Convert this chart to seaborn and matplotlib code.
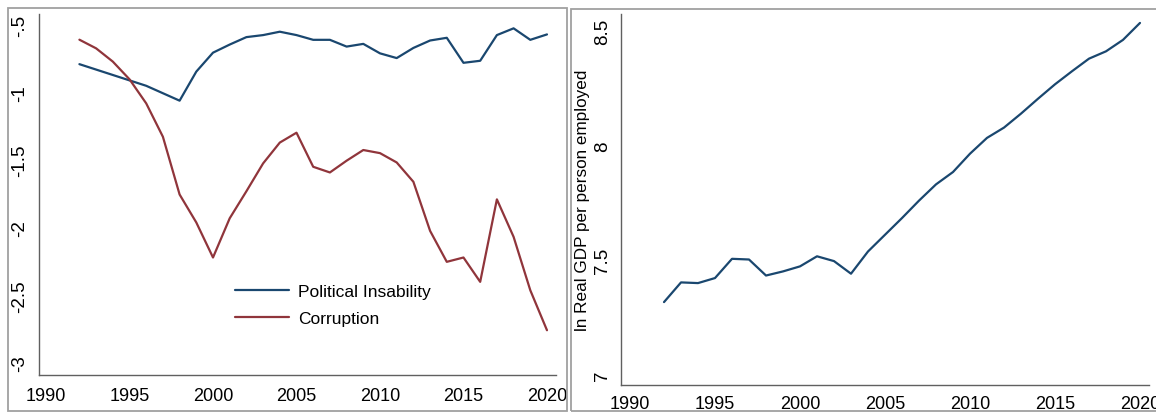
import pandas as pd
import matplotlib.pyplot as plt
import matplotlib.patches as patches
import seaborn as sns

years_pol = [1992, 1996, 1998] + list(range(1999, 2021))
pol_instab = [-0.79, -0.95, -1.06, -0.845, -0.705, -0.645, -0.59, -0.575, -0.55,
              -0.575, -0.61, -0.61, -0.66, -0.64, -0.71, -0.745, -0.67, -0.615,
              -0.595, -0.78, -0.765, -0.575, -0.525, -0.61, -0.57]

years = list(range(1992, 2021))
corruption = [-0.609, -0.673, -0.771, -0.902, -1.08, -1.327, -1.754, -1.961, -2.22,
              -1.93, -1.73, -1.524, -1.37, -1.297, -1.549, -1.591, -1.504, -1.425,
              -1.448, -1.517, -1.66, -2.023, -2.252, -2.22, -2.40, -1.79, -2.067,
              -2.462, -2.758]

ln_gdp = [7.316, 7.402, 7.399, 7.421, 7.505, 7.502, 7.432, 7.45, 7.472, 7.516,
          7.495, 7.44, 7.537, 7.61, 7.683, 7.759, 7.83, 7.884, 7.964, 8.033,
          8.078, 8.139, 8.204, 8.267, 8.324, 8.379, 8.411, 8.461, 8.535]

xticks = [1990, 1995, 2000, 2005, 2010, 2015, 2020]
left_yticks = [-0.5, -1, -1.5, -2, -2.5, -3]
left_ylabels = ['-.5', '-1', '-1.5', '-2', '-2.5', '-3']
right_yticks = [7, 7.5, 8, 8.5]
right_ylabels = ['7', '7.5', '8', '8.5']

navy = '#1a476f'
maroon = '#90353b'

df_pol = pd.DataFrame({'year': years_pol, 'value': pol_instab, 'series': 'Political Insability'})
df_cor = pd.DataFrame({'year': years, 'value': corruption, 'series': 'Corruption'})
df_left = pd.concat([df_pol, df_cor], ignore_index=True)
df_gdp = pd.DataFrame({'year': years, 'gdp': ln_gdp})

sns.set_theme(style='white')
plt.rcParams['font.family'] = ['Liberation Sans', 'DejaVu Sans']
plt.rcParams['text.color'] = 'black'

fig = plt.figure(figsize=(11.56, 4.14), dpi=100, facecolor='w')

# panel frames
fig.patches.append(patches.Rectangle((8 / 1156, 1 - 412 / 414), 559 / 1156, 403 / 414,
                                     transform=fig.transFigure, fill=False,
                                     edgecolor='#a0a0a0', linewidth=1.3))
fig.patches.append(patches.Rectangle((571 / 1156, 1 - 412 / 414), 600 / 1156, 402 / 414,
                                     transform=fig.transFigure, fill=False,
                                     edgecolor='#a0a0a0', linewidth=1.3))

ax1 = fig.add_axes([39 / 1156, 1 - 376 / 414, 517 / 1156, 361 / 414])
ax2 = fig.add_axes([621 / 1156, 1 - 386 / 414, 528 / 1156, 371 / 414])

sns.lineplot(data=df_left, x='year', y='value', hue='series',
             palette=[navy, maroon], linewidth=1.6, ax=ax1)
sns.lineplot(data=df_gdp, x='year', y='gdp', color=navy, linewidth=1.6, ax=ax2)

ax1.set_xlim(1989.58, 2020.54)
ax1.set_ylim(-3.089, -0.419)
ax2.set_xlim(1989.47, 2020.53)
ax2.set_ylim(6.954, 8.574)

for ax, yt, yl, xpad, ypad in [(ax1, left_yticks, left_ylabels, 4, 3),
                               (ax2, right_yticks, right_ylabels, 2, 2)]:
    ax.set_facecolor('white')
    for s in ['top', 'right']:
        ax.spines[s].set_visible(False)
    for s in ['left', 'bottom']:
        ax.spines[s].set_color('#606060')
        ax.spines[s].set_linewidth(1.0)
    ax.set_xticks(xticks)
    ax.set_xticklabels([str(x) for x in xticks])
    ax.set_yticks(yt)
    ax.set_yticklabels(yl, rotation=90, va='center')
    ax.tick_params(axis='both', direction='out', length=5, width=1.0,
                   color='#606060', labelcolor='black')
    ax.tick_params(axis='x', labelsize=13, pad=xpad)
    ax.tick_params(axis='y', labelsize=13.5, pad=ypad)
    ax.set_xlabel('')
    ax.set_ylabel('')

ax2.set_ylabel('ln Real GDP per person employed', fontsize=12.3, color='black')
ax2.yaxis.set_label_coords(-0.058, 0.5)

leg = ax1.legend(loc='upper left', bbox_to_anchor=(0.379, 0.252), frameon=False,
                 borderaxespad=0, borderpad=0,
                 fontsize=12.5, handlelength=3.1, handletextpad=0.52, labelspacing=0.68)
for t in leg.get_texts():
    t.set_color('black')

fig.savefig('out.png', dpi=100, facecolor='w')
